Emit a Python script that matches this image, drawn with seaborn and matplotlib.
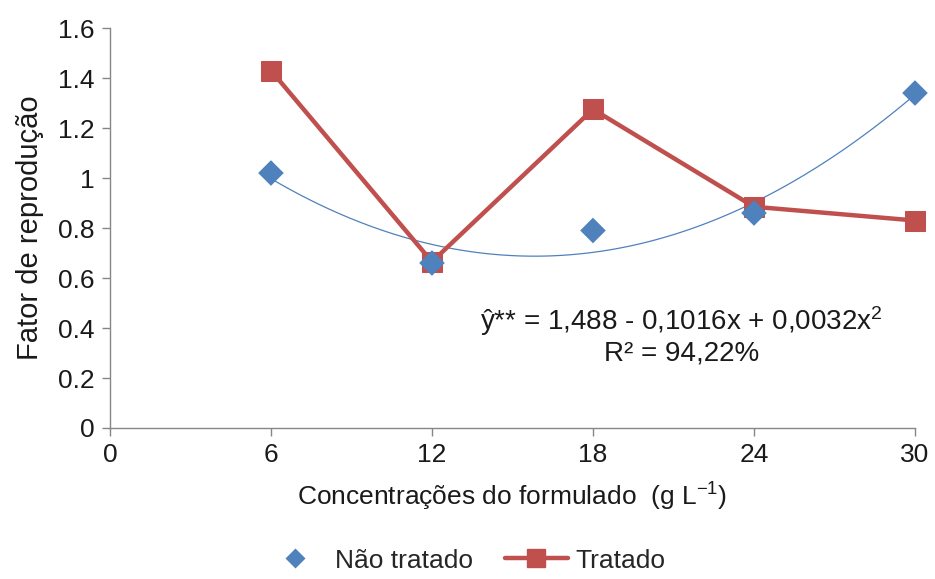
import numpy as np
import pandas as pd
import seaborn as sns
import matplotlib.pyplot as plt

# data
conc = [6, 12, 18, 24, 30]
nao_tratado = [1.02, 0.66, 0.79, 0.86, 1.34]
tratado = [1.43, 0.665, 1.275, 0.885, 0.83]

x_ticks = [0, 6, 12, 18, 24, 30]
y_ticks = [0, 0.2, 0.4, 0.6, 0.8, 1, 1.2, 1.4, 1.6]
y_labels = ['0', '0.2', '0.4', '0.6', '0.8', '1', '1.2', '1.4', '1.6']

blue = '#4F81BD'
red = '#C0504D'
axis_gray = '#868686'
txt = '#1a1a1a'

sns.set_style('white')
plt.rcParams['font.family'] = ['Liberation Sans', 'DejaVu Sans']
plt.rcParams['mathtext.fontset'] = 'custom'
plt.rcParams['mathtext.rm'] = 'Liberation Sans'
plt.rcParams['mathtext.it'] = 'Liberation Sans'

df = pd.DataFrame({'conc': conc, 'nao': nao_tratado, 'trat': tratado})

fig = plt.figure(figsize=(9.35, 5.79), dpi=100)
ax = fig.add_axes([0.1176, 0.2608, 0.861, 0.6908])

# quadratic trend for "Não tratado"
sns.regplot(data=df, x='conc', y='nao', order=2, ci=None, scatter=False,
            line_kws={'color': blue, 'lw': 0.9}, truncate=True, ax=ax)

sns.lineplot(data=df, x='conc', y='trat', color=red, lw=3.2, marker='s',
             markersize=14, markeredgecolor=red, ax=ax, legend=False,
             clip_on=False)
sns.scatterplot(data=df, x='conc', y='nao', color=blue, marker='D', s=170,
                edgecolor='none', ax=ax, zorder=5, legend=False,
                clip_on=False)

ax.set_xlim(0, 30)
ax.set_ylim(0, 1.6)
ax.set_xticks(x_ticks)
ax.set_yticks(y_ticks)
ax.set_yticklabels(y_labels)
ax.tick_params(axis='both', labelsize=19, colors=axis_gray, labelcolor=txt,
               direction='out', length=6, width=1, left=True, bottom=True,
               pad=5)
for side in ['top', 'right']:
    ax.spines[side].set_visible(False)
for side in ['left', 'bottom']:
    ax.spines[side].set_color(axis_gray)
    ax.spines[side].set_linewidth(1)

ax.set_xlabel('Concentrações do formulado  (g L$^{-1}$)', fontsize=19,
              color=txt, labelpad=10)
ax.set_ylabel('Fator de reprodução', fontsize=21, color=txt, labelpad=10)

ax.text(21.3, 0.37, 'ŷ** = 1,488 - 0,1016x + 0,0032x$^{2}$\nR² = 94,22%',
        fontsize=20, color=txt, ha='center', va='center',
        linespacing=1.1)

handles = [
    plt.Line2D([], [], color=blue, marker='D', markersize=10, ls='none',
               markeredgecolor='none'),
    plt.Line2D([], [], color=red, marker='s', markersize=13, lw=3.2),
]
fig.legend(handles, ['Não tratado', 'Tratado'], loc='lower center',
           bbox_to_anchor=(0.497, -0.03), ncol=2, frameon=False, fontsize=19,
           handlelength=2.4, columnspacing=1.2, handletextpad=0.3)

fig.savefig('out.png', dpi=100)
